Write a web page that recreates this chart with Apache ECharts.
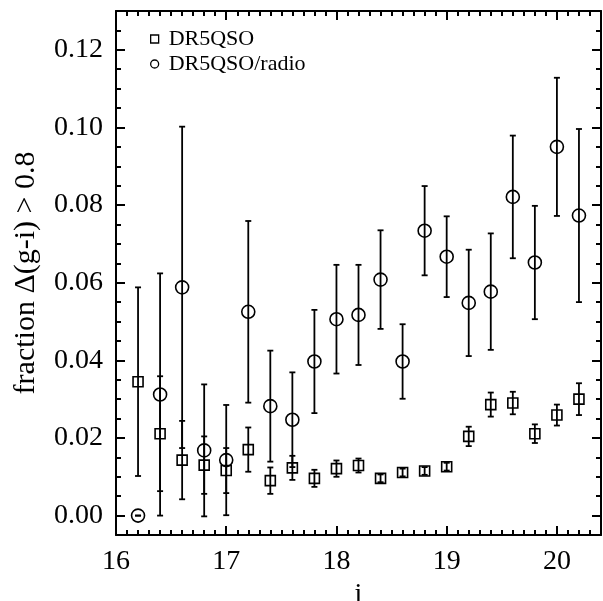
<!DOCTYPE html>
<html>
<head>
<meta charset="utf-8">
<script src="https://cdn.jsdelivr.net/npm/echarts@6/dist/echarts.min.js"></script>
<style>html,body{margin:0;padding:0;background:#fff}#c{width:603px;height:601px}</style>
</head>
<body>
<div id="c"></div>
<script>
// magnitude bins (i)
const mag = [16.2,16.4,16.6,16.8,17.0,17.2,17.4,17.6,17.8,18.0,18.2,18.4,18.6,18.8,19.0,19.2,19.4,19.6,19.8,20.0,20.2];
// DR5QSO fraction and 1-sigma error
const qsoFrac = [0.0345,0.0211,0.0143,0.0130,0.0116,0.0170,0.0090,0.0123,0.0096,0.0121,0.0129,0.0096,0.0111,0.0115,0.0126,0.0204,0.0286,0.0290,0.0211,0.0259,0.0300];
const qsoErr  = [0.0243,0.0148,0.0101,0.0074,0.0058,0.0057,0.0034,0.0031,0.0022,0.0021,0.0018,0.0010,0.0010,0.0010,0.0010,0.0025,0.0031,0.0029,0.0024,0.0027,0.0041];
// DR5QSO/radio fraction and 1-sigma error
const radioFrac = [0.0000,0.0312,0.0588,0.0168,0.0143,0.0525,0.0282,0.0247,0.0397,0.0506,0.0517,0.0608,0.0397,0.0734,0.0667,0.0548,0.0577,0.0821,0.0652,0.0950,0.0773];
const radioErr  = [0.0000,0.0312,0.0414,0.0170,0.0142,0.0234,0.0143,0.0122,0.0133,0.0140,0.0129,0.0127,0.0096,0.0115,0.0104,0.0137,0.0150,0.0158,0.0146,0.0178,0.0223];
// axis ticks
const xTicks = [16,17,18,19,20];
const yTicks = [0.00,0.02,0.04,0.06,0.08,0.10,0.12];

const X_MIN = 16, X_MAX = 20.4, Y_MIN = -0.005, Y_MAX = 0.13;
const xMinor = []; for (let k = 160; k <= 204; k++) xMinor.push(k / 10);
const yMinor = []; for (let k = -1; k <= 26; k++) yMinor.push(k * 5 / 1000);

const FONT = 'Liberation Serif';
const black = '#000';

function xAxisDef(pos, ticks, len, main) {
  return {
    type: 'value', min: X_MIN, max: X_MAX, position: pos,
    axisLine: {show: main, onZero: false, lineStyle: {color: black, width: 2}},
    axisTick: {show: true, inside: true, length: len, customValues: ticks, lineStyle: {color: black, width: 2}},
    axisLabel: main && pos === 'bottom' ? {show: true, customValues: xTicks, margin: 13,
      fontFamily: FONT, fontSize: 28, color: black, formatter: v => String(Math.round(v))} : {show: false},
    splitLine: {show: false},
    name: main && pos === 'bottom' ? 'i' : '',
    nameLocation: 'middle', nameGap: 38,
    nameTextStyle: {fontFamily: FONT, fontSize: 28, color: black}
  };
}
function yAxisDef(pos, ticks, len, main) {
  return {
    type: 'value', min: Y_MIN, max: Y_MAX, position: pos,
    axisLine: {show: main, onZero: false, lineStyle: {color: black, width: 2}},
    axisTick: {show: true, inside: true, length: len, customValues: ticks, lineStyle: {color: black, width: 2}},
    axisLabel: main && pos === 'left' ? {show: true, customValues: yTicks, margin: 13,
      fontFamily: FONT, fontSize: 28, color: black, formatter: v => v.toFixed(2)} : {show: false},
    splitLine: {show: false},
    name: main && pos === 'left' ? 'fraction \u0394(g-i) > 0.8' : '',
    nameLocation: 'middle', nameGap: 75, nameRotate: 90,
    nameTextStyle: {fontFamily: FONT, fontSize: 30, color: black}
  };
}

function errData(fr, er) { return mag.map((m, i) => [m, fr[i], er[i]]); }
function errRender(params, api) {
  const x = api.value(0), y = api.value(1), e = api.value(2);
  const t = api.coord([x, y + e]), b = api.coord([x, y - e]);
  const w = 3;
  const st = {stroke: black, lineWidth: 1.8, fill: null};
  return {type: 'group', children: [
    {type: 'line', shape: {x1: t[0], y1: t[1], x2: b[0], y2: b[1]}, style: st},
    {type: 'line', shape: {x1: t[0] - w, y1: t[1], x2: t[0] + w, y2: t[1]}, style: st},
    {type: 'line', shape: {x1: b[0] - w, y1: b[1], x2: b[0] + w, y2: b[1]}, style: st}
  ]};
}

const chart = echarts.init(document.getElementById('c'), null, {renderer: 'canvas'});
chart.setOption({
  animation: false,
  backgroundColor: '#fff',
  grid: {left: 116, right: 2, top: 11, bottom: 66, containLabel: false, outerBoundsMode: 'none'},
  xAxis: [
    xAxisDef('bottom', xTicks, 9, true),
    xAxisDef('bottom', xMinor, 5, false),
    xAxisDef('top', xTicks, 9, true),
    xAxisDef('top', xMinor, 5, false)
  ],
  yAxis: [
    yAxisDef('left', yTicks, 9, true),
    yAxisDef('left', yMinor, 5, false),
    yAxisDef('right', yTicks, 9, true),
    yAxisDef('right', yMinor, 5, false)
  ],
  legend: {
    orient: 'vertical', left: 145, top: 23, itemWidth: 8, itemHeight: 8, itemGap: 3,
    selectedMode: false,
    data: [{name: 'DR5QSO', icon: 'rect'}, {name: 'DR5QSO/radio', icon: 'circle'}],
    itemStyle: {color: 'rgba(0,0,0,0)', borderColor: black, borderWidth: 1.3},
    textStyle: {fontFamily: FONT, fontSize: 22, color: black, lineHeight: 21, padding: [0, 0, 0, 5]}
  },
  series: [
    {name: 'DR5QSO', type: 'scatter', xAxisIndex: 0, yAxisIndex: 0,
     symbol: 'rect', symbolSize: 10,
     itemStyle: {color: 'rgba(0,0,0,0)', borderColor: black, borderWidth: 1.6, opacity: 1},
     data: mag.map((m, i) => [m, qsoFrac[i]]), z: 3},
    {name: 'DR5QSO/radio', type: 'scatter', xAxisIndex: 0, yAxisIndex: 0,
     symbol: 'circle', symbolSize: 13,
     itemStyle: {color: 'rgba(0,0,0,0)', borderColor: black, borderWidth: 1.6, opacity: 1},
     data: mag.map((m, i) => [m, radioFrac[i]]), z: 3},
    {name: 'qsoErr', type: 'custom', xAxisIndex: 0, yAxisIndex: 0, renderItem: errRender,
     encode: {x: 0, y: 1}, data: errData(qsoFrac, qsoErr), z: 4, silent: true},
    {name: 'radioErr', type: 'custom', xAxisIndex: 0, yAxisIndex: 0, renderItem: errRender,
     encode: {x: 0, y: 1}, data: errData(radioFrac, radioErr), z: 4, silent: true}
  ]
});
</script>
</body>
</html>
